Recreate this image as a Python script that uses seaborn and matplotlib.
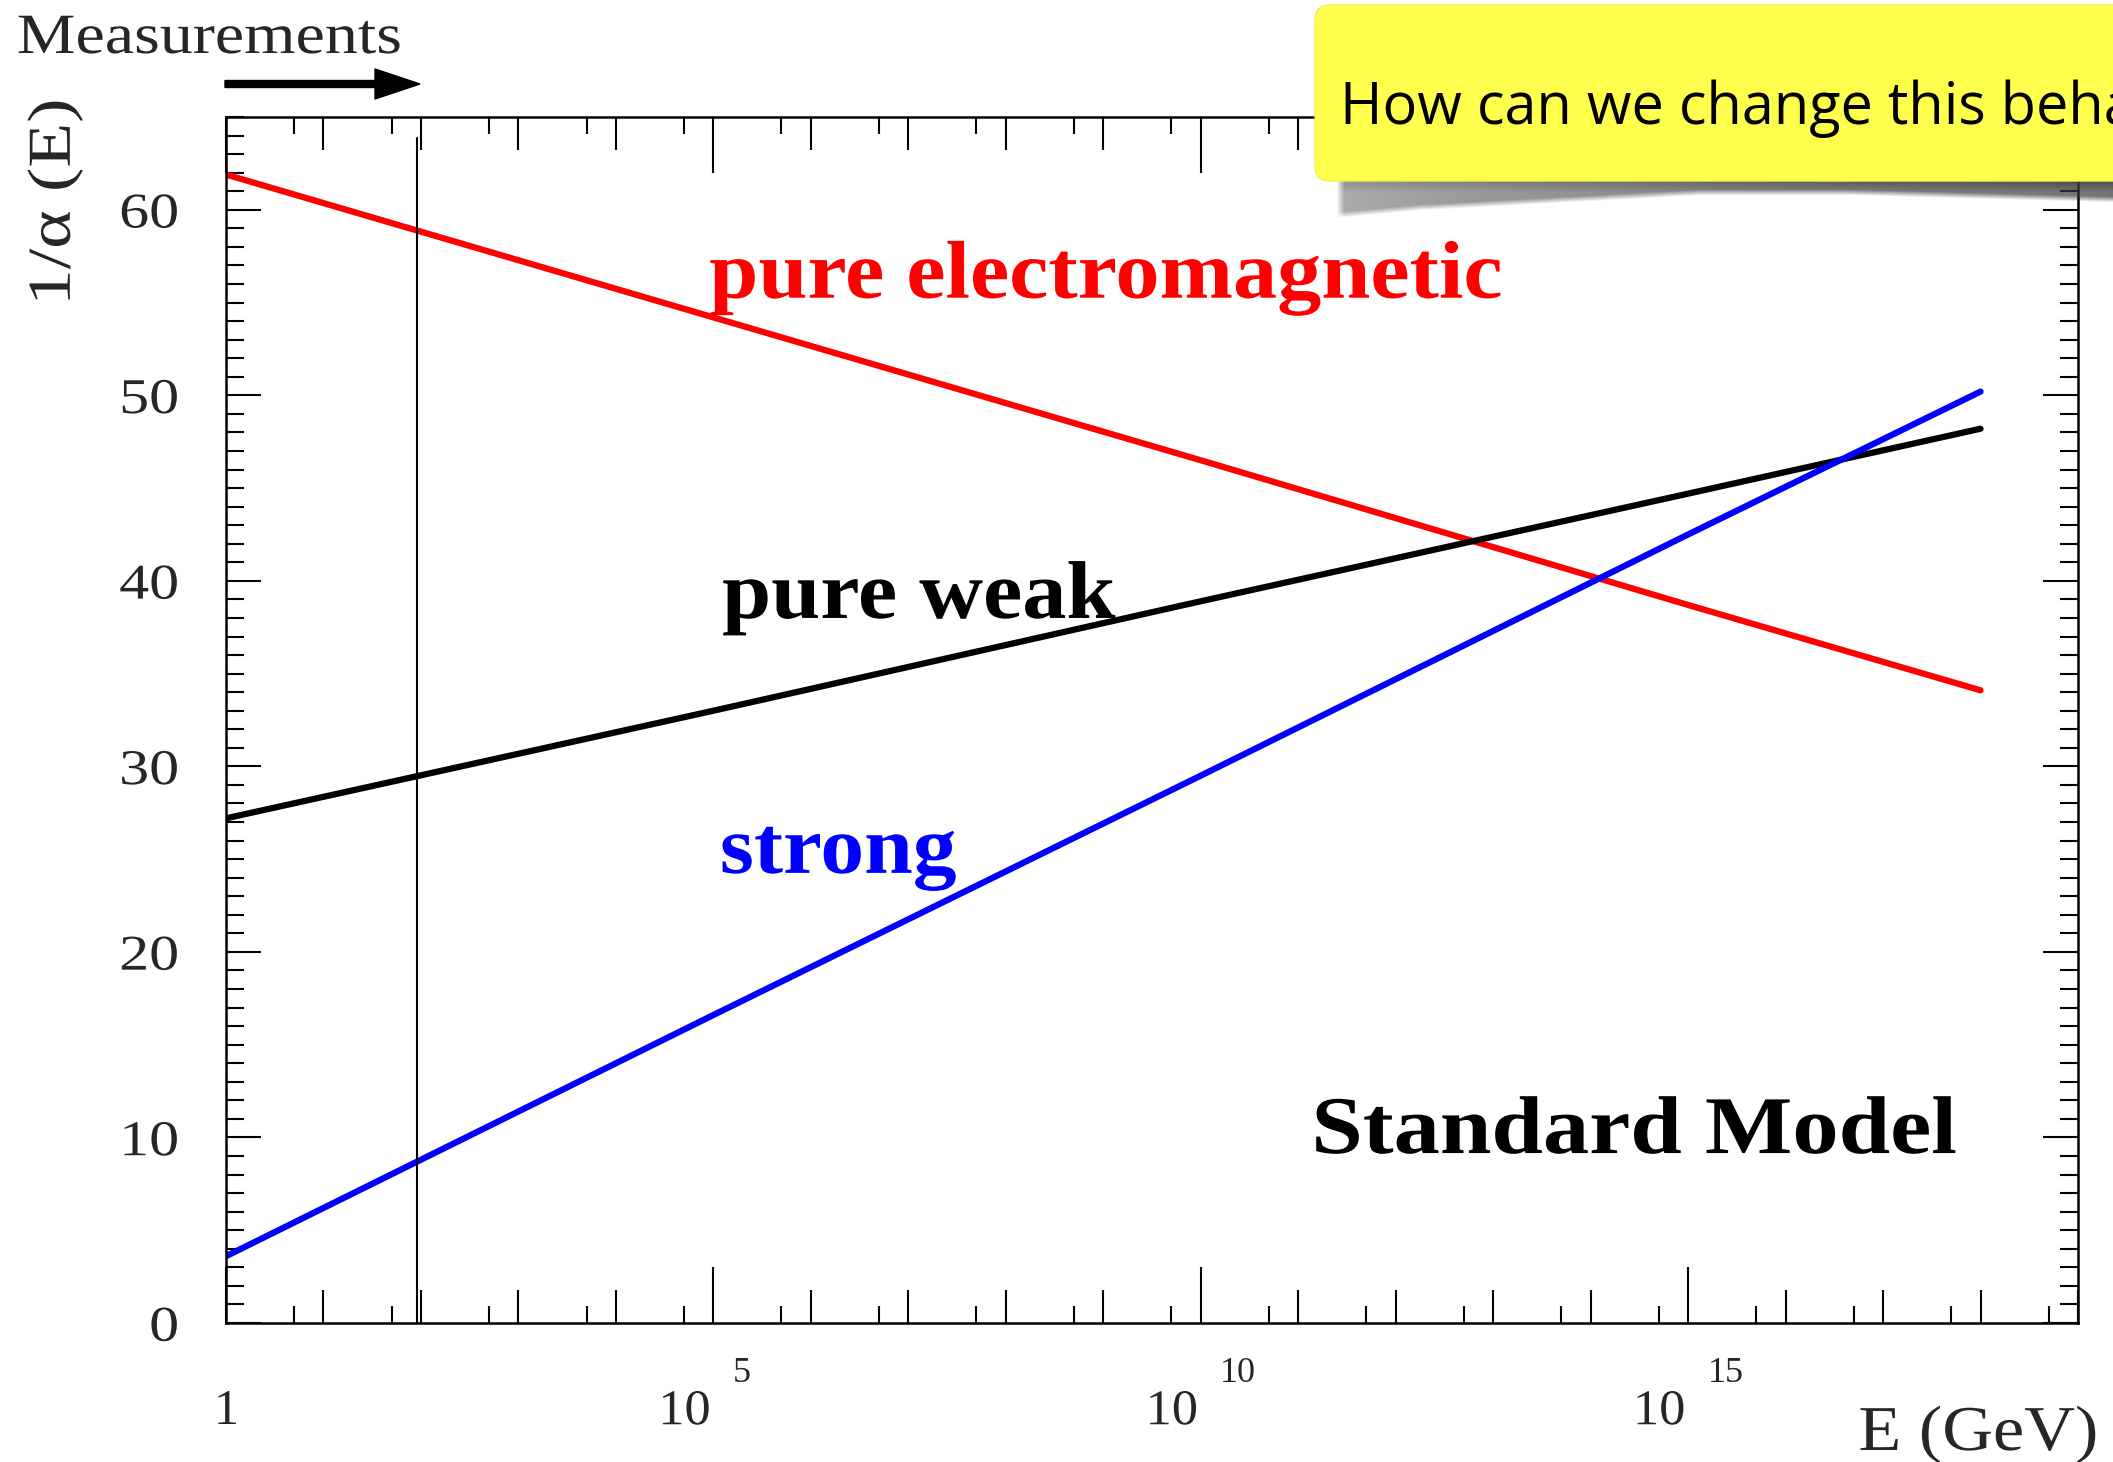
import numpy as np
import pandas as pd
import matplotlib
matplotlib.use("Agg")
import matplotlib.pyplot as plt
import matplotlib.ticker as mticker
import matplotlib.transforms as mtransforms
from matplotlib.patches import FancyBboxPatch, FancyArrow
from matplotlib.patheffects import AbstractPathEffect
import seaborn as sns

# Inverse coupling strengths of the three forces versus energy
energy_gev = [1e0, 1e5, 1e10, 1e15, 1e18]
inv_alpha_em = [61.9, 54.2, 46.5, 38.7, 34.1]
inv_alpha_weak = [27.2, 33.0, 38.9, 44.7, 48.2]
inv_alpha_strong = [3.6, 16.6, 29.5, 42.5, 50.2]
force_names = ["pure electromagnetic", "pure weak", "strong"]
force_colors = ["#ff0000", "#000000", "#0000ff"]

# Highest energy reached by measurements (Z mass)
measured_limit_gev = 91.2

# Axis ticks
y_major_ticks = [0, 10, 20, 30, 40, 50, 60]
x_major_ticks = [1e0, 1e5, 1e10, 1e15]
x_tick_base = ["1", "10", "10", "10"]
x_tick_exp = ["", "5", "10", "15"]


class Spread(AbstractPathEffect):
    """Widen glyph runs horizontally around a chosen anchor."""

    def __init__(self, factor, anchor="left"):
        super().__init__()
        self.factor = factor
        self.anchor = anchor

    def draw_path(self, renderer, gc, tpath, affine, rgbFace=None):
        ext = tpath.get_extents()
        if self.anchor == "left":
            x0 = ext.x0
        elif self.anchor == "right":
            x0 = ext.x1
        else:
            x0 = 0.5 * (ext.x0 + ext.x1)
        widen = mtransforms.Affine2D().translate(-x0, 0).scale(self.factor, 1).translate(x0, 0)
        renderer.draw_path(gc, tpath, widen + affine, rgbFace)


df = pd.DataFrame({
    "E": energy_gev * 3,
    "inv_alpha": inv_alpha_em + inv_alpha_weak + inv_alpha_strong,
    "force": [n for n in force_names for _ in energy_gev],
})

sns.set_theme(style="ticks")
plt.rcParams["font.family"] = ["Liberation Serif", "DejaVu Serif"]
plt.rcParams["axes.linewidth"] = 1.8

W, H = 2113, 1462
fig = plt.figure(figsize=(W / 100, H / 100), dpi=100)
fig.patch.set_facecolor("white")

ax_left, ax_right, ax_top, ax_bottom = 226, 2078, 117, 1323
ax = fig.add_axes([ax_left / W, 1 - ax_bottom / H,
                   (ax_right - ax_left) / W, (ax_bottom - ax_top) / H])
ax.set_xscale("log")

sns.lineplot(data=df, x="E", y="inv_alpha", hue="force", hue_order=force_names,
             palette=dict(zip(force_names, force_colors)), estimator=None,
             linewidth=4.5, legend=False, ax=ax)

ax.axvline(measured_limit_gev, ymin=0, ymax=0.983, color="black", lw=1.5)

ax.set_xlim(1, 1e19)
ax.set_ylim(0, 65)
ax.set_xlabel("")
ax.set_ylabel("")
for s in ax.spines.values():
    s.set_visible(True)
    s.set_linewidth(1.8)
    s.set_color("black")

# x axis: long ticks every 5 decades, medium every decade
ax.xaxis.set_major_locator(mticker.FixedLocator(x_major_ticks))
ax.xaxis.set_minor_locator(mticker.LogLocator(base=10, subs=(1.0,), numticks=60))
ax.xaxis.set_minor_formatter(mticker.NullFormatter())
ax.tick_params(axis="x", which="major", direction="in", length=40, width=1.5,
               top=True, bottom=True, labelbottom=False, color="black")
ax.tick_params(axis="x", which="minor", direction="in", length=24, width=1.5,
               top=True, bottom=True, color="black")

# short ticks at 5 x 10^n on bottom and top
for loc in ("bottom", "top"):
    sec = ax.secondary_xaxis(loc)
    sec.xaxis.set_major_locator(mticker.LogLocator(base=10, subs=(5.0,), numticks=60))
    sec.xaxis.set_minor_locator(mticker.NullLocator())
    sec.tick_params(direction="in", length=12, width=1.5, color="black",
                    labelbottom=False, labeltop=False)
    for s in sec.spines.values():
        s.set_visible(False)

# y axis
ax.yaxis.set_major_locator(mticker.FixedLocator(y_major_ticks))
ax.yaxis.set_minor_locator(mticker.MultipleLocator(1))
ax.tick_params(axis="y", which="major", direction="in", length=25, width=1.5,
               left=True, right=True, labelsize=36, pad=34, color="black")
ax.tick_params(axis="y", which="minor", direction="in", length=13, width=1.5,
               left=True, right=True, color="black")
for lab in ax.get_yticklabels():
    lab.set_path_effects([Spread(1.2, "right")])

# x tick labels written as 10 with a raised exponent
xlab_trans = mtransforms.blended_transform_factory(ax.transData, ax.transAxes)
for val, base, exp in zip(x_major_ticks, x_tick_base, x_tick_exp):
    if exp == "":
        ax.text(val, -0.0738, base, transform=xlab_trans, ha="center",
                va="center", fontsize=36, clip_on=False)
    else:
        ax.annotate(base, xy=(val, -0.0738), xycoords=xlab_trans,
                    xytext=(-2, 0), textcoords="offset points",
                    ha="right", va="center", fontsize=36, annotation_clip=False,
                    path_effects=[Spread(1.05, "right")])
        ax.annotate(exp, xy=(val, -0.0415), xycoords=xlab_trans,
                    xytext=(14, 0), textcoords="offset points",
                    ha="left", va="center", fontsize=26, annotation_clip=False)

# curve labels
label_style = dict(fontsize=59, fontweight="bold", ha="left", va="baseline")
ax.text(9.1e4, 55.26, force_names[0], color=force_colors[0],
        path_effects=[Spread(1.077)], **label_style)
ax.text(1.23e5, 38.0, force_names[1], color=force_colors[1],
        path_effects=[Spread(1.078)], **label_style)
ax.text(1.17e5, 24.26, force_names[2], color=force_colors[2],
        path_effects=[Spread(1.068)], **label_style)
ax.text(1.38e11, 9.16, "Standard Model", color="black",
        path_effects=[Spread(1.13)], **label_style)

# axis titles
fig.text(55 / W, 1 - 202 / H, "1/\u03b1 (E)", rotation=90, ha="center",
         va="center", fontsize=44, path_effects=[Spread(1.2, "center")])
fig.text(2098 / W, 1 - 1450 / H, "E (GeV)", ha="right", va="baseline",
         fontsize=46, path_effects=[Spread(1.1, "right")])
fig.text(17 / W, 1 - 53 / H, "Measurements", ha="left", va="baseline",
         fontsize=41, path_effects=[Spread(1.16)])
fig.add_artist(FancyArrow(225, H - 84, 195, 0, width=7, head_width=30,
                          head_length=45, length_includes_head=True,
                          color="black", transform=mtransforms.IdentityTransform()))

# sticky-note question with its curled-paper shadow
sh_top, sh_bot, sh_left = 178, 224, 1334
ax_sh = fig.add_axes([sh_left / W, 1 - sh_bot / H, (W - sh_left) / W,
                      (sh_bot - sh_top) / H], zorder=4)
nx, ny = W - sh_left, sh_bot - sh_top
px = np.arange(nx) + sh_left
py = np.arange(ny)[:, None] + sh_top
depth = np.interp(px, [1334, 1420, 1700, 1850, 2113], [38, 30, 15, 15, 22])
shade = np.interp(px, [1334, 1450, 1750, 2113], [0.42, 0.5, 0.62, 0.7])
inside = np.clip((180 + depth - py) / 6.0, 0, 1)
left_fade = np.clip((px - 1336) / 8.0, 0, 1)
band = 1 + 0.25 * np.clip((192 - py) / 10.0, 0, 1)
rgba = np.zeros((ny, nx, 4))
rgba[..., :3] = 0.22
rgba[..., 3] = np.clip(shade * inside * left_fade * band, 0, 1)
ax_sh.imshow(rgba, aspect="auto", extent=(0, 1, 0, 1), interpolation="bilinear")
ax_sh.axis("off")

note = FancyBboxPatch((13.15, (H - 181) / 100), 9.0, 1.76,
                      boxstyle="round,pad=0,rounding_size=0.15",
                      transform=fig.dpi_scale_trans, facecolor="#ffff4d",
                      edgecolor="#f4f04a", linewidth=1.0, zorder=5)
fig.add_artist(note)
fig.text(1340 / W, 1 - 124 / H, "How can we change this behaviour?",
         fontfamily=["Open Sans", "DejaVu Sans"], fontsize=41.5, ha="left",
         va="baseline", color="black", zorder=6)

fig.savefig("out.png", dpi=100)
